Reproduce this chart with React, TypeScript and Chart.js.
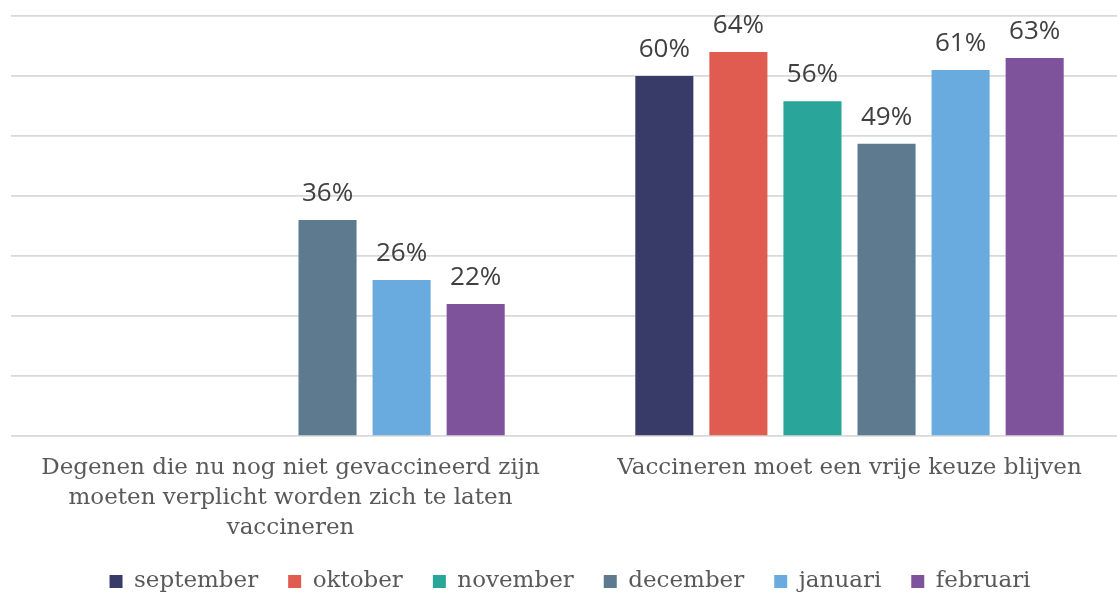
import React, { useEffect, useRef } from "react";
import { Chart, registerables } from "chart.js";

Chart.register(...registerables);

const categories: (string | string[])[] = [
  ["Degenen die nu nog niet gevaccineerd zijn", "moeten verplicht worden zich te laten", "vaccineren"],
  "Vaccineren moet een vrije keuze blijven",
];
const seriesNames = ["september", "oktober", "november", "december", "januari", "februari"];
const september = [null, 60];
const oktober = [null, 64];
const november = [null, 55.8];
const december = [36, 48.7];
const januari = [26, 61];
const februari = [22, 63];
const seriesColors = ["#383b68", "#e05c51", "#29a699", "#5e7a8f", "#69abde", "#7e539c"];
const yTicks = [0, 10, 20, 30, 40, 50, 60, 70];

const labelPlugin = {
  id: "barLabels",
  afterDatasetsDraw(chart: any) {
    const ctx = chart.ctx;
    ctx.save();
    ctx.font = "26px 'Open Sans'";
    ctx.fillStyle = "#404040";
    ctx.textAlign = "center";
    ctx.textBaseline = "alphabetic";
    chart.data.datasets.forEach((ds: any, i: number) => {
      const meta = chart.getDatasetMeta(i);
      meta.data.forEach((bar: any, j: number) => {
        const v = ds.data[j];
        if (v === null || v === undefined) return;
        ctx.fillText(Math.round(v) + "%", bar.x, bar.y - 19);
      });
    });
    ctx.restore();
  },
};

const legendHeightPlugin = {
  id: "legendHeight",
  afterInit(chart: any) {
    const lg = chart.legend;
    if (!lg) return;
    const orig = lg.fit.bind(lg);
    lg.fit = function () {
      orig();
      this.height = 53;
    };
  },
};

export default function App() {
  const ref = useRef<HTMLCanvasElement>(null);
  useEffect(() => {
    const all = [september, oktober, november, december, januari, februari];
    const chart = new Chart(ref.current!, {
      type: "bar",
      data: {
        labels: categories,
        datasets: all.map((d, i) => ({
          label: seriesNames[i],
          data: d,
          backgroundColor: seriesColors[i],
          categoryPercentage: 0.795,
          barPercentage: 0.784,
        })),
      },
      options: {
        animation: false,
        responsive: false,
        maintainAspectRatio: false,
        layout: { padding: { left: 11, right: 1, top: 16, bottom: 2 } },
        scales: {
          x: {
            grid: { display: false },
            border: { display: false },
            afterFit: (s: any) => {
              s.height = 104;
            },
            ticks: {
              color: "#595959",
              font: { family: "'DejaVu Serif'", size: 23, lineHeight: 1.3 },
              padding: 9,
              maxRotation: 0,
              autoSkip: false,
            },
          },
          y: {
            min: 0,
            max: 70,
            afterBuildTicks: (axis: any) => {
              axis.ticks = yTicks.map((v) => ({ value: v }));
            },
            ticks: { display: false },
            border: { display: false },
            grid: { color: "#d9d9d9", lineWidth: 1.7, drawTicks: false },
          },
        },
        plugins: {
          legend: {
            position: "bottom",
            labels: {
              boxWidth: 13,
              boxHeight: 13,
              color: "#595959",
              font: { family: "'DejaVu Serif'", size: 23 },
              padding: 30,
            },
          },
          tooltip: { enabled: false },
        },
      },
      plugins: [labelPlugin, legendHeightPlugin],
    });
    return () => chart.destroy();
  }, []);
  return (
    <div style={{ position: "fixed", left: 0, top: 0, width: 1117, height: 595, overflow: "hidden", background: "#fff" }}>
      <canvas ref={ref} width={1130} height={595} style={{ width: 1130, height: 595 }} />
    </div>
  );
}
